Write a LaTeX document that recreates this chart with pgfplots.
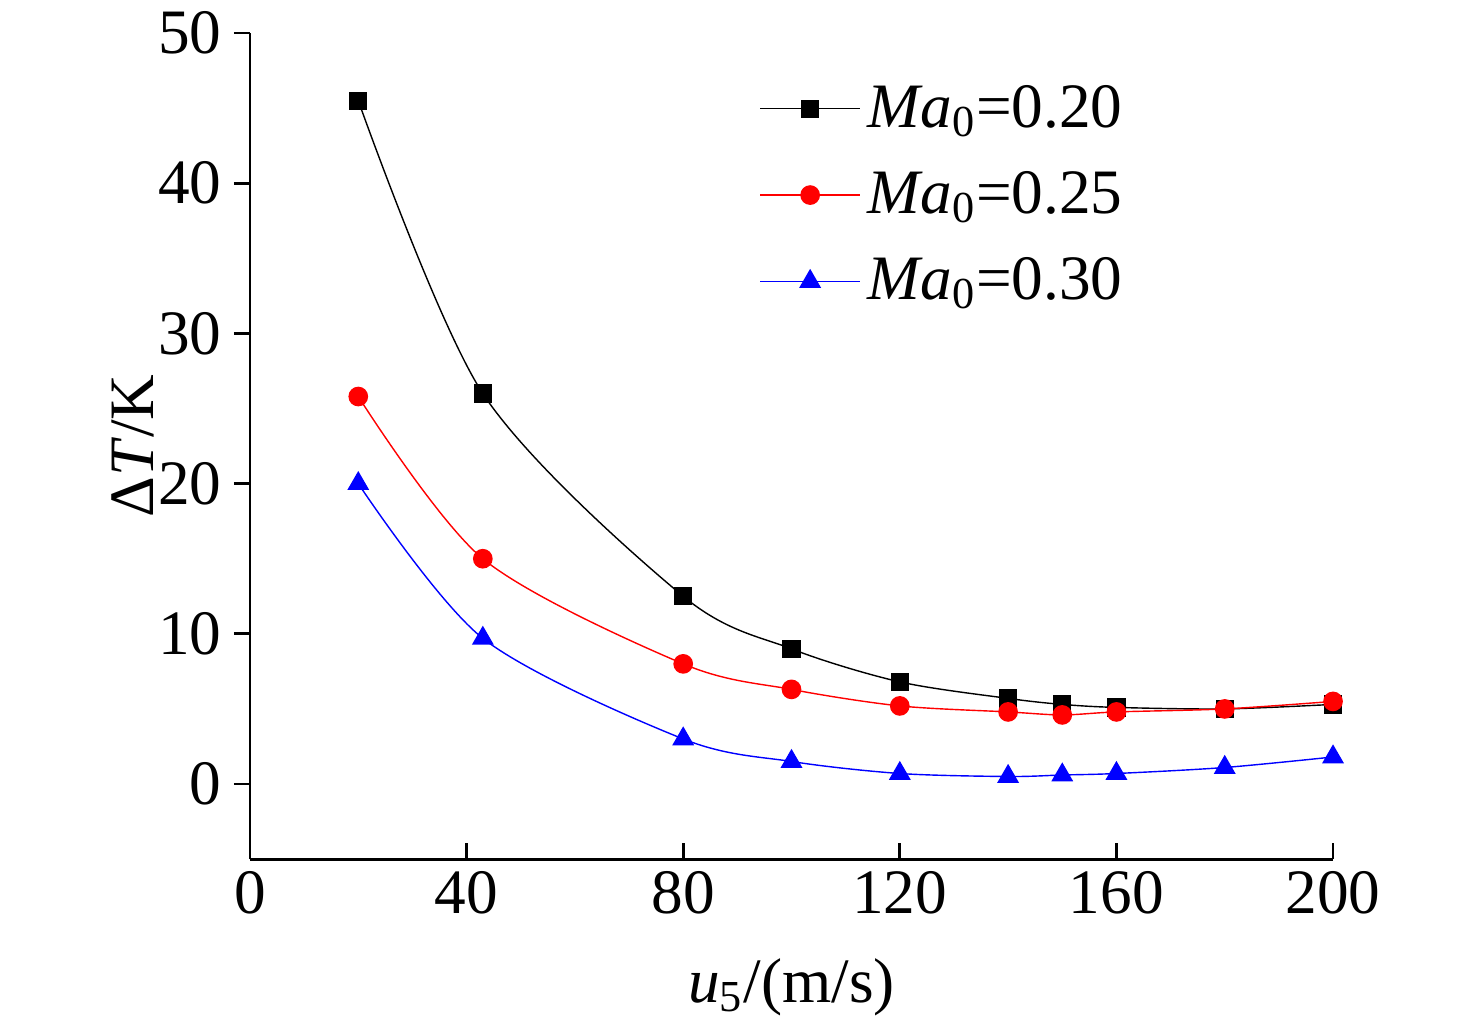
\documentclass[border=0pt]{standalone}
\usepackage{pgfplots}
\pgfplotsset{compat=1.18}
\usepackage{fontspec}
\setmainfont{Liberation Serif}
\begin{document}
\begin{tikzpicture}[x=1mm,y=1mm]
\begin{axis}[
 scale only axis, width=108.3mm, height=82.6mm,
 xmin=0,xmax=200,ymin=-5,ymax=50,
 axis lines=left, axis line style={-, line width=0.8pt},
 xtick={0,40,...,200}, ytick={0,10,...,50},
 tick style={line width=0.8pt, black},
 major tick length=1.6mm,
 xtick align=inside, ytick align=outside,
 tick label style={font=\fontsize{18}{21}\selectfont},
 /pgf/number format/assume math mode=true,
 xlabel={\fontsize{18}{21}\selectfont \textit{u}\textsubscript{5}/(m/s)},
 ylabel={\fontsize{18}{21}\selectfont Δ\textit{T}/K},
 xlabel style={yshift=-2mm},
 ylabel style={yshift=-2mm},
 clip=false,
 legend style={draw=none, fill=none, at={(0.46,0.955)}, anchor=north west,
   font=\fontsize{18}{21}\selectfont, row sep=2.5mm},
 legend cell align=left,
 legend image code/.code={\draw[mark repeat=2,mark phase=2,#1] plot coordinates {(0mm,0mm)(5mm,0mm)(10mm,0mm)};},
]
\addplot[black, smooth, mark=square*, mark size=2.4pt] coordinates {(20,45.5)(43,26)(80,12.5)(100,9)(120,6.8)(140,5.7)(150,5.3)(160,5.1)(180,5.0)(200,5.3)};
\addplot[red, smooth, mark=*, mark size=2.6pt] coordinates {(20,25.8)(43,15)(80,8)(100,6.3)(120,5.2)(140,4.8)(150,4.6)(160,4.8)(180,5.0)(200,5.5)};
\addplot[blue, smooth, mark=triangle*, mark size=3.2pt] coordinates {(20,20)(43,9.7)(80,3)(100,1.5)(120,0.7)(140,0.5)(150,0.6)(160,0.7)(180,1.1)(200,1.8)};
\legend{\textit{Ma}\textsubscript{0}=0.20,\textit{Ma}\textsubscript{0}=0.25,\textit{Ma}\textsubscript{0}=0.30}
\path (axis description cs:-0.2308,-0.207) (axis description cs:1.132,1.0327);
\end{axis}
\end{tikzpicture}
\end{document}
